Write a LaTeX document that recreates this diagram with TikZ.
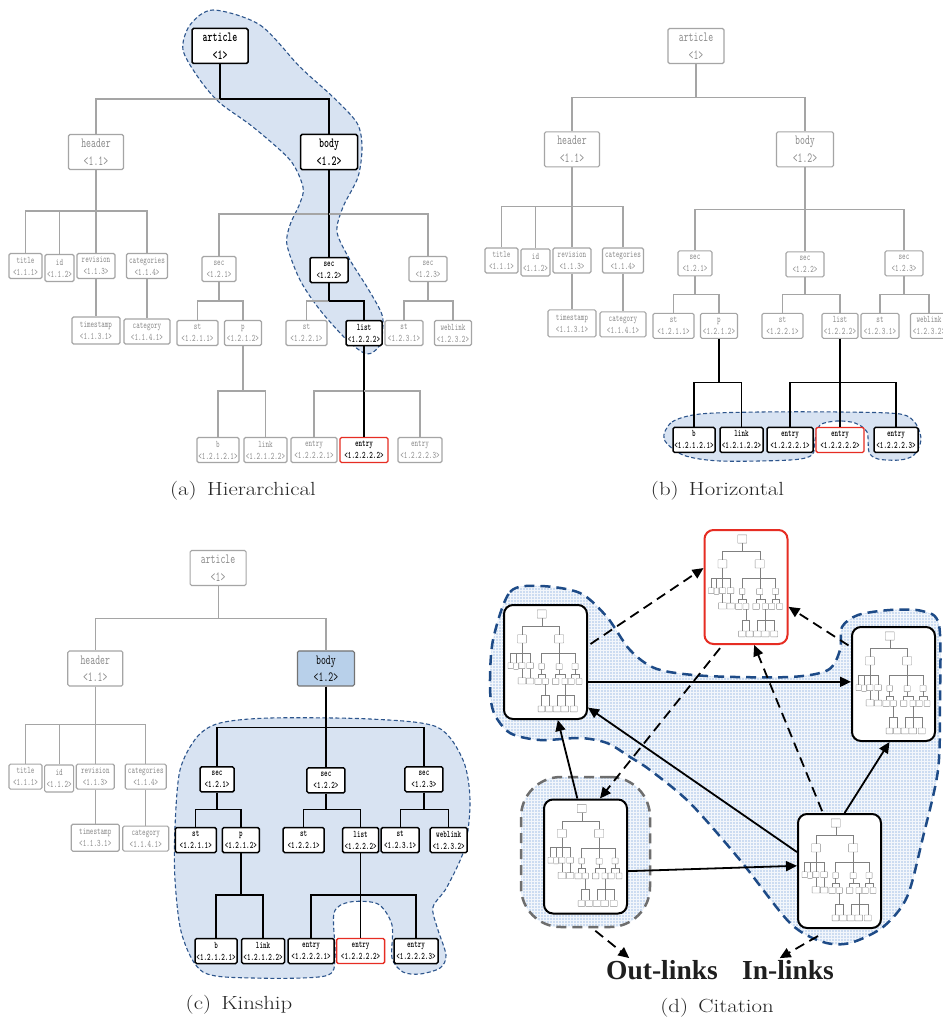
\documentclass[tikz,border=0pt]{standalone}
\usepackage{fontspec}
\usepackage{graphicx}
\usetikzlibrary{arrows.meta,patterns,calc}
\newfontfamily\lblfont{Liberation Serif}
\definecolor{gline}{RGB}{165,165,165}
\definecolor{gtext}{RGB}{135,135,135}
\definecolor{blobfill}{RGB}{216,227,242}
\definecolor{blobline}{RGB}{45,85,140}
\definecolor{tred}{RGB}{230,45,35}
\definecolor{bodyfill}{RGB}{184,208,234}
\definecolor{dfill}{RGB}{204,220,241}
\definecolor{dline}{RGB}{30,75,135}
\definecolor{gblob}{RGB}{110,110,110}

\newcommand\tx[2]{\scalebox{.68}[1]{#1}\\\scalebox{.68}[1]{#2}}
\newcommand\capt[1]{\scalebox{1.2}[1]{#1}}
\newcommand\E[3]{%
  \draw[edge,st-#1/.try] (#1.south) -- (#1.south |- 0,#3);
  \draw[edge,ed-#2/.try] (#1.south |- 0,#3) -| (#2.north);}

\newcommand\drawtree{%
 \node[big,minimum width=56,nd-art/.try] (art) at (220,46) {\tx{article}{<1>}};
 \node[big,minimum width=55,nd-hdr/.try] (hdr) at (96,152) {\tx{header}{<1.1>}};
 \node[big,minimum width=57,nd-bdy/.try] (bdy) at (329,152) {\tx{body}{<1.2>}};
 \node[sm,minimum width=33,nd-t111/.try] (t111) at (25.5,266) {\tx{title}{<1.1.1>}};
 \node[sm,minimum width=29,minimum height=27,nd-t112/.try] (t112) at (59.5,268) {\tx{id}{<1.1.2>}};
 \node[sm,minimum width=38,nd-t113/.try] (t113) at (96,266) {\tx{revision}{<1.1.3>}};
 \node[sm,minimum width=41,nd-t114/.try] (t114) at (147,266) {\tx{categories}{<1.1.4>}};
 \node[sm,minimum width=48,minimum height=27,nd-t1131/.try] (t1131) at (96,330.5) {\tx{timestamp}{<1.1.3.1>}};
 \node[sm,minimum width=46,nd-t1141/.try] (t1141) at (147,331.5) {\tx{category}{<1.1.4.1>}};
 \node[sm,minimum width=34,nd-s121/.try] (s121) at (219,269) {\tx{sec}{<1.2.1>}};
 \node[sm,minimum width=38,nd-s122/.try] (s122) at (329,270) {\tx{sec}{<1.2.2>}};
 \node[sm,minimum width=38,nd-s123/.try] (s123) at (428,269) {\tx{sec}{<1.2.3>}};
 \node[sm,minimum width=41,nd-s1211/.try] (s1211) at (197.5,333) {\tx{st}{<1.2.1.1>}};
 \node[sm,minimum width=37,nd-p1212/.try] (p1212) at (243,333) {\tx{p}{<1.2.1.2>}};
 \node[sm,minimum width=41,nd-s1221/.try] (s1221) at (306.5,333) {\tx{st}{<1.2.2.1>}};
 \node[sm,minimum width=36,nd-l1222/.try] (l1222) at (364,333) {\tx{list}{<1.2.2.2>}};
 \node[sm,minimum width=38,nd-s1231/.try] (s1231) at (404,333) {\tx{st}{<1.2.3.1>}};
 \node[sm,minimum width=37,nd-w1232/.try] (w1232) at (453,333) {\tx{weblink}{<1.2.3.2>}};
 \node[sm,minimum width=42,nd-b/.try] (b) at (218,450) {\tx{b}{<1.2.1.2.1>}};
 \node[sm,minimum width=43,nd-lk/.try] (lk) at (265.5,450) {\tx{link}{<1.2.1.2.2>}};
 \node[sm,minimum width=46,nd-e1/.try] (e1) at (314,450) {\tx{entry}{<1.2.2.2.1>}};
 \node[sm,minimum width=48,nd-e2/.try] (e2) at (364,450) {\tx{entry}{<1.2.2.2.2>}};
 \node[sm,minimum width=44,nd-e3/.try] (e3) at (420,450) {\tx{entry}{<1.2.2.2.3>}};
 \E{art}{hdr}{99}\E{art}{bdy}{99}%
 \E{hdr}{t111}{211}\E{hdr}{t112}{211}\E{hdr}{t113}{211}\E{hdr}{t114}{211}%
 \E{t113}{t1131}{300}\E{t114}{t1141}{300}%
 \E{bdy}{s121}{214}\E{bdy}{s122}{214}\E{bdy}{s123}{214}%
 \E{s121}{s1211}{301}\E{s121}{p1212}{301}%
 \E{s122}{s1221}{301}\E{s122}{l1222}{301}%
 \E{s123}{s1231}{301}\E{s123}{w1232}{301}%
 \E{p1212}{b}{391}\E{p1212}{lk}{391}%
 \E{l1222}{e1}{391}\E{l1222}{e2}{391}\E{l1222}{e3}{391}%
}

\newcommand\thumb[3]{%
 \begin{scope}[name prefix=#1-, shift={(#2+4,#3+5)}, xscale=0.16, yscale=0.235, shift={(-9,-29)}, transform shape,
   base/.style={draw=black!45, line width=0.35pt, fill=white, rounded corners=0.3pt, inner sep=0pt},
   edge/.style={draw=black!50, line width=0.35pt}]
  \renewcommand\tx[2]{}%
  \drawtree
 \end{scope}}

\tikzset{
 base/.style={draw=gline, line width=1.1pt, rounded corners=1.5pt, fill=white, text=gtext, align=center, inner sep=1pt},
 big/.style={base, minimum height=35, font=\fontsize{14}{17.5}\selectfont\ttfamily},
 sm/.style={base, minimum height=25, font=\fontsize{10}{12}\selectfont\ttfamily},
 hl/.style={draw=black, line width=1.5pt, text=black, execute at begin node=\bfseries},
 tgt/.style={draw=tred, line width=1.3pt, text=black, execute at begin node=\bfseries},
 edge/.style={draw=gline, line width=1.1pt},
 hle/.style={draw=black, line width=1.4pt},
 blob/.style={draw=blobline, fill=blobfill, line width=1.1pt, dash pattern=on 4pt off 2.5pt},
 dblob/.style={draw=dline, line width=2.5pt, dash pattern=on 10pt off 6pt, preaction={fill=dfill}, pattern=grid, pattern color=white!75!dfill},
 thbox/.style={draw=black, line width=2pt, rounded corners=9pt, fill=white, minimum width=83, minimum height=114, inner sep=0pt},
 arr/.style={line width=1.8pt, -{Triangle[length=11pt,width=10pt]}},
 darr/.style={arr, dash pattern=on 10pt off 6pt},
 lbl/.style={font=\lblfont\bfseries\fontsize{27.5}{30}\selectfont, text=black!88, inner sep=2pt},
 capt/.style={font=\fontsize{19}{22}\selectfont, text=black!85, inner sep=1pt},
}

\begin{document}
\begin{tikzpicture}[x=1pt,y=-1pt]
\useasboundingbox[fill=white] (0,0) rectangle (942,1022);

% ---------- blobs ----------
\draw[blob] plot[smooth cycle, tension=0.5] coordinates {(213,10) (260,25) (300,67) (333,97) (357,123) (362,147) (358,177) (343,207) (337,232) (350,260) (367,287) (381,312) (383,325) (380,345) (367,354) (347,340) (320,310) (300,280) (287,245) (290,225) (300,203) (303,187) (290,160) (253,127) (220,103) (200,80) (183,50) (190,25)};

\draw[blob] plot[smooth cycle, tension=0.5] coordinates {(664,439) (672,422) (700,414) (760,412) (840,412) (900,414) (916,424) (921,440) (914,455) (900,460) (878,459) (869,452) (867,432) (855,423) (837,421) (820,425) (815,440) (812,455) (790,460) (720,461) (683,455)};

\draw[blob] plot[smooth cycle, tension=0.5] coordinates {(180,770) (197,737) (220,723) (270,718) (370,719) (437,727) (463,760) (470,800) (465,847) (447,887) (433,907) (437,927) (446,955) (440,968) (420,974) (403,972) (392,958) (392,925) (378,904) (350,902) (334,913) (335,958) (325,976) (253,978) (203,972) (182,935) (175,880) (175,827)};

% ---------- (a) ----------
\begin{scope}[name prefix=a-,
  nd-art/.style=hl, nd-bdy/.style=hl, nd-s122/.style=hl, nd-l1222/.style=hl, nd-e2/.style=tgt,
  st-art/.style=hle, st-bdy/.style=hle, st-s122/.style=hle, st-l1222/.style=hle,
  ed-bdy/.style=hle, ed-s122/.style=hle, ed-l1222/.style=hle, ed-e2/.style=hle]
 \drawtree
\end{scope}

% ---------- (b) ----------
\begin{scope}[name prefix=b-, shift={(476,46)}, yscale=0.975, shift={(0,-46)},
  nd-b/.style=hl, nd-lk/.style=hl, nd-e1/.style=hl, nd-e3/.style=hl, nd-e2/.style=tgt,
  st-p1212/.style=hle, st-l1222/.style=hle,
  ed-b/.style=hle, ed-lk/.style=hle, ed-e1/.style=hle, ed-e2/.style=hle, ed-e3/.style=hle]
 \drawtree
\end{scope}

% ---------- (c) ----------
\begin{scope}[name prefix=c-, shift={(0.25,568)}, xscale=0.99, yscale=0.948, shift={(0,-46)},
  nd-bdy/.style={fill=bodyfill, draw=black!55, text=black},
  nd-s121/.style=hl, nd-s122/.style=hl, nd-s123/.style=hl,
  nd-s1211/.style=hl, nd-p1212/.style=hl, nd-s1221/.style=hl, nd-l1222/.style=hl,
  nd-s1231/.style=hl, nd-w1232/.style=hl,
  nd-b/.style=hl, nd-lk/.style=hl, nd-e1/.style=hl, nd-e3/.style=hl, nd-e2/.style=tgt,
  st-bdy/.style=hle, st-s121/.style=hle, st-s122/.style=hle, st-s123/.style=hle,
  st-p1212/.style=hle, st-l1222/.style=hle,
  ed-s121/.style=hle, ed-s122/.style=hle, ed-s123/.style=hle,
  ed-s1211/.style=hle, ed-p1212/.style=hle, ed-s1221/.style=hle, ed-l1222/.style=hle,
  ed-s1231/.style=hle, ed-w1232/.style=hle,
  ed-b/.style=hle, ed-lk/.style=hle, ed-e1/.style=hle, ed-e2/.style=hle, ed-e3/.style=hle]
 \drawtree
\end{scope}

% ---------- (d) ----------
\draw[dblob] plot[smooth cycle, tension=0.5] coordinates {(493,640) (510,592) (540,586) (580,593) (607,617) (630,650) (657,669) (707,676) (790,677) (828,670) (840,650) (842,627) (858,615) (890,610) (922,611) (939,625) (940,700) (938,770) (923,837) (907,897) (883,927) (850,943) (823,942) (790,923) (740,860) (690,803) (650,770) (630,757) (607,743) (580,738) (540,740) (510,733) (494,713) (490,687)};
\coordinate (bbot) at (818,936);

\node[draw=gblob, line width=2.5pt, dash pattern=on 10pt off 6pt, rounded corners=40pt,
  minimum width=129, minimum height=150, preaction={fill=dfill}, pattern=grid,
  pattern color=white!75!dfill] (gb) at (585.5,852) {};

\node[thbox] (tl) at (545.5,662) {};
\node[thbox, draw=tred] (rd) at (746,587) {};
\node[thbox] (rt) at (893.5,684) {};
\node[thbox] (bl) at (585.5,856.5) {};
\node[thbox] (br) at (839.5,871) {};

\thumb{d1}{504}{605}
\thumb{d2}{704.5}{530}
\thumb{d3}{852}{627}
\thumb{d4}{544}{799.5}
\thumb{d5}{798}{814}

\draw[darr, shorten <=3pt] (tl.21) -- (rd.156);
\draw[darr, shorten <=3pt] (rt.139) -- (rd.-25);
\draw[darr, shorten <=4pt] (rd.248) -- (bl.76);
\draw[darr, shorten <=2pt] (br.106) -- (rd.278);
\draw[arr] (tl.335) -- (tl.335 -| rt.west);
\draw[arr] (br.156) -- (tl.313);
\draw[arr] (bl.98) -- (tl.282);
\draw[arr] (bl.341) -- (br.173);
\draw[arr] (br.85) -- (rt.266);

\node[lbl] (ol) at (662,970) {Out-links};
\node[lbl] (il) at (788,970) {In-links};
\draw[darr, shorten <=4pt] (gb.275) -- (ol.160);
\draw[darr] (bbot) -- (il.125);

% ---------- captions ----------
\node[capt] (ca) at (243,490.5) {\capt{(a)\hspace{0.45em}Hierarchical}};
\node[capt] (cb) at (717.5,490.5) {\capt{(b)\hspace{0.45em}Horizontal}};
\node[capt] (cc) at (239,1005) {\capt{(c)\hspace{0.45em}Kinship}};
\node[capt] (cd) at (717,1008) {\capt{(d)\hspace{0.45em}Citation}};
\end{tikzpicture}
\end{document}
